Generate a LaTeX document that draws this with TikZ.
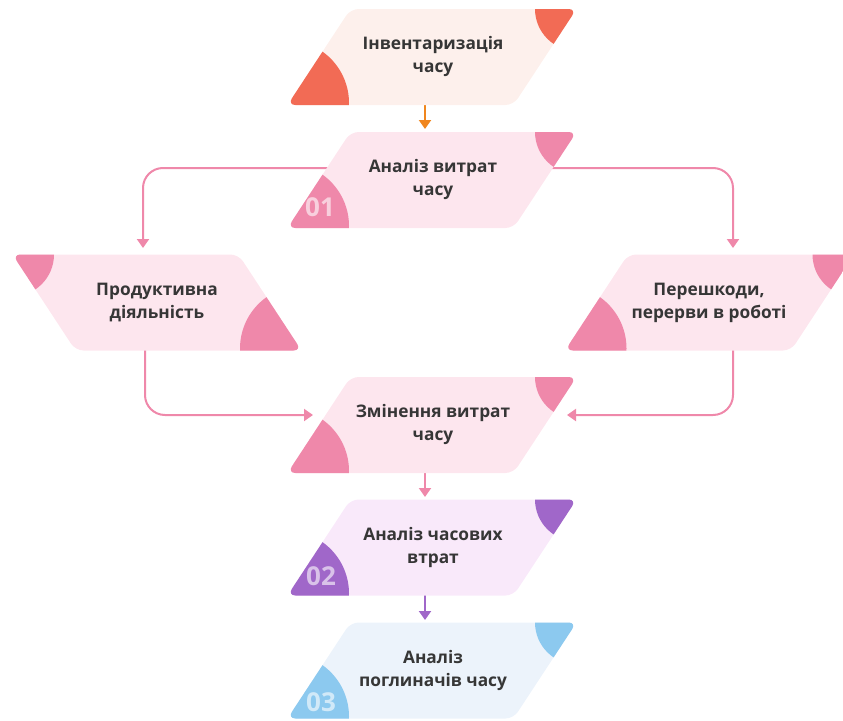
\documentclass[tikz,border=0pt]{standalone}
\usepackage{fontspec}
\setmainfont{Open Sans}
\usetikzlibrary{arrows.meta}
\definecolor{textc}{HTML}{363636}
\definecolor{coral}{HTML}{F26B55}
\definecolor{coralbg}{HTML}{FDF0EC}
\definecolor{pinkd}{HTML}{EF88AA}
\definecolor{pinkbg}{HTML}{FDE6EE}
\definecolor{purpd}{HTML}{A067C9}
\definecolor{purpbg}{HTML}{F9E9FA}
\definecolor{blued}{HTML}{8CC9EF}
\definecolor{bluebg}{HTML}{ECF3FB}
\definecolor{orangea}{HTML}{F0861E}
\newcommand\boxR[4]{%
\begin{scope}[shift={(#1,#2)}]
\clip[rounded corners=8] (-144.5,48) -- (-81.5,-48) -- (144.5,-48) -- (81.5,48) -- cycle;
\fill[#3] (-150,-50) rectangle (150,50);
\fill[#4] (-146,46) circle (63);
\fill[#4] (145,-48) circle (42);
\end{scope}}
\newcommand\boxL[4]{%
\begin{scope}[shift={(#1,#2)}]
\clip[rounded corners=8] (-144.5,-48) -- (81.5,-48) -- (144.5,48) -- (-81.5,48) -- cycle;
\fill[#3] (-150,-50) rectangle (150,50);
\fill[#4] (146,46) circle (63);
\fill[#4] (-145,-48) circle (42);
\end{scope}}
\begin{document}
\begin{tikzpicture}[x=1pt,y=-1pt,
  txt/.style={font=\bfseries\fontsize{17.3}{23}\selectfont, text=textc, align=center},
  num/.style={font=\bfseries\fontsize{26}{26}\selectfont, text=white, text opacity=0.6},
  link/.style={line width=2pt, -{Triangle[width=12pt,length=9pt]}},
  pinklink/.style={link, draw=pinkd, rounded corners=20},
]
\useasboundingbox (0,0) rectangle (843,720);
% connector end points
\coordinate (b1-s) at (425,105);
\coordinate (b2-n) at (425,129);
\coordinate (b2-w) at (330,168);
\coordinate (b2-e) at (545,168);
\coordinate (bl-n) at (143,248);
\coordinate (br-n) at (733,248);
\coordinate (bl-s) at (145,345);
\coordinate (br-s) at (733,345);
\coordinate (bm-w) at (313,415);
\coordinate (bm-e) at (567,415);
\coordinate (bm-s) at (425,472);
\coordinate (b02-n) at (425,497);
\coordinate (b02-s) at (425,595);
\coordinate (b03-n) at (425,620);
% connectors
\draw[link, draw=orangea, fill=orangea] (b1-s) -- (b2-n);
\draw[pinklink] (b2-w) -| (bl-n);
\draw[pinklink] (b2-e) -| (br-n);
\draw[pinklink] (bl-s) |- (bm-w);
\draw[pinklink] (br-s) |- (bm-e);
\draw[link, draw=pinkd] (bm-s) -- (b02-n);
\draw[link, draw=purpd] (b02-s) -- (b03-n);
% boxes
\boxR{432}{57}{coralbg}{coral}
\boxR{432}{180}{pinkbg}{pinkd}
\boxL{157}{302.5}{pinkbg}{pinkd}
\boxR{709.5}{302.5}{pinkbg}{pinkd}
\boxR{432}{425}{pinkbg}{pinkd}
\boxR{432}{547.5}{purpbg}{purpd}
\boxR{432}{670.5}{bluebg}{blued}
% texts
\node[txt] (b1) at (433,57) {Інвентаризація\\часу};
\node[txt] (b2) at (433,180) {Аналіз витрат\\часу};
\node[txt] (bl) at (157,302.5) {Продуктивна\\діяльність};
\node[txt] (br) at (709,302.5) {Перешкоди,\\перерви в роботі};
\node[txt] (bm) at (433,425) {Змінення витрат\\часу};
\node[txt] (b02) at (433,547.5) {Аналіз часових\\втрат};
\node[txt] (b03) at (433,670.5) {Аналіз\\поглиначів часу};
% numbers
\node[num] (n1) at (320,207.5) {01};
\node[num] (n2) at (321,576) {02};
\node[num] (n3) at (321,702) {03};
\end{tikzpicture}
\end{document}
